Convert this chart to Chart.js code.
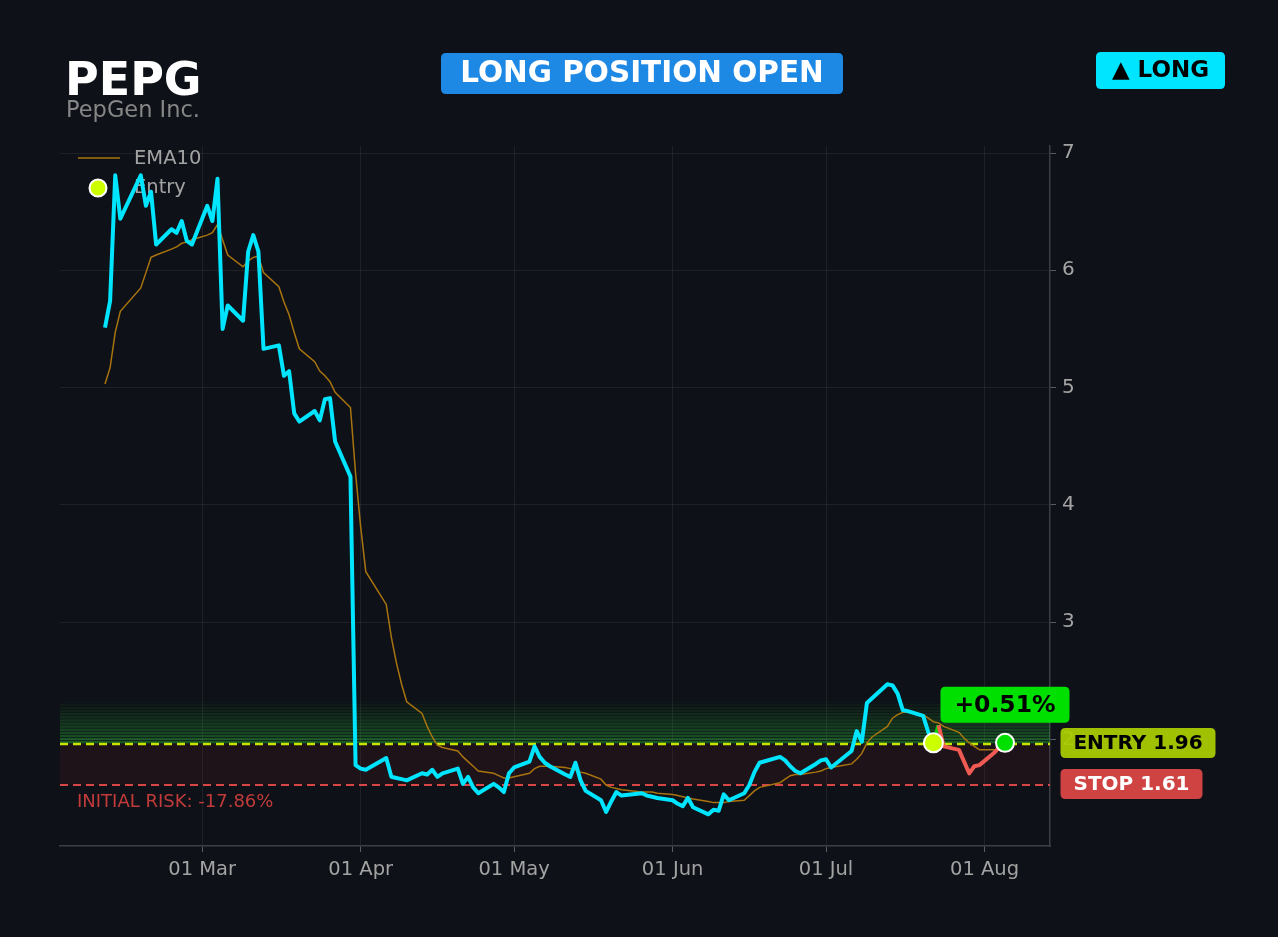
<!DOCTYPE html>
<html>
<head>
<meta charset="utf-8">
<title>PEPG</title>
<script src="https://cdn.jsdelivr.net/npm/chart.js@4.4.1/dist/chart.umd.min.js"></script>
<style>
  html, body { margin: 0; padding: 0; background: #0e1117; }
  canvas { display: block; }
</style>
</head>
<body>
<canvas id="myChart" width="1278" height="937"></canvas>
<script>
var year = 2026;

// trading days (MM-DD)
var dates = [
  '02-10','02-11','02-12','02-13','02-17','02-18','02-19','02-20','02-23','02-24','02-25','02-26','02-27',
  '03-02','03-03','03-04','03-05','03-06','03-09','03-10','03-11','03-12','03-13','03-16','03-17','03-18','03-19','03-20','03-23','03-24','03-25','03-26','03-27','03-30','03-31',
  '04-01','04-02','04-06','04-07','04-08','04-09','04-10','04-13','04-14','04-15','04-16','04-17','04-20','04-21','04-22','04-23','04-24','04-27','04-28','04-29','04-30',
  '05-01','05-04','05-05','05-06','05-07','05-08','05-11','05-12','05-13','05-14','05-15','05-18','05-19','05-20','05-21','05-22','05-26','05-27','05-28','05-29',
  '06-01','06-02','06-03','06-04','06-05','06-08','06-09','06-10','06-11','06-12','06-15','06-16','06-17','06-18','06-22','06-23','06-24','06-25','06-26','06-29','06-30',
  '07-01','07-02','07-06','07-07','07-08','07-09','07-10','07-13','07-14','07-15','07-16','07-17','07-20','07-21','07-22','07-23','07-24','07-27','07-28','07-29','07-30','07-31',
  '08-03','08-04','08-05'
];

var closes = [
  5.51, 5.74, 6.81, 6.44, 6.81, 6.55, 6.67, 6.22, 6.35, 6.32, 6.42, 6.25, 6.22,
  6.55, 6.42, 6.78, 5.50, 5.70, 5.57, 6.16, 6.30, 6.16, 5.33, 5.36, 5.10, 5.14, 4.78, 4.71, 4.80, 4.72, 4.90, 4.91, 4.54, 4.24, 1.78,
  1.75, 1.74, 1.84, 1.68, 1.67, 1.66, 1.65, 1.71, 1.70, 1.74, 1.68, 1.71, 1.75, 1.62, 1.68, 1.59, 1.54, 1.62, 1.59, 1.55, 1.71,
  1.76, 1.81, 1.94, 1.85, 1.80, 1.77, 1.70, 1.68, 1.80, 1.65, 1.56, 1.48, 1.38, 1.47, 1.55, 1.52, 1.54, 1.52, 1.51, 1.50,
  1.48, 1.45, 1.43, 1.50, 1.42, 1.36, 1.40, 1.39, 1.53, 1.48, 1.54, 1.61, 1.72, 1.80, 1.85, 1.82, 1.77, 1.73, 1.71, 1.79, 1.82,
  1.83, 1.76, 1.90, 2.07, 1.98, 2.31, 2.35, 2.47, 2.46, 2.39, 2.25, 2.24, 2.20, 2.06, 1.97, 2.12, 1.94, 1.91, 1.81, 1.71, 1.77, 1.78,
  1.89, 1.94, 1.97
];

var ema10 = [
  5.03, 5.17, 5.47, 5.65, 5.85, 5.98, 6.11, 6.13, 6.18, 6.20, 6.23, 6.24, 6.26,
  6.30, 6.32, 6.39, 6.26, 6.13, 6.03, 6.08, 6.11, 6.12, 5.98, 5.86, 5.73, 5.62, 5.47, 5.33, 5.22, 5.14, 5.10, 5.05, 4.96, 4.83, 4.27,
  3.81, 3.43, 3.15, 2.87, 2.65, 2.47, 2.32, 2.22, 2.11, 2.02, 1.95, 1.93, 1.90, 1.85, 1.81, 1.77, 1.73, 1.71, 1.69, 1.67, 1.67,
  1.68, 1.71, 1.75, 1.77, 1.77, 1.77, 1.76, 1.75, 1.74, 1.72, 1.71, 1.66, 1.61, 1.59, 1.58, 1.57, 1.55, 1.55, 1.55, 1.54,
  1.53, 1.52, 1.51, 1.50, 1.49, 1.47, 1.46, 1.46, 1.46, 1.47, 1.48, 1.52, 1.56, 1.59, 1.63, 1.66, 1.69, 1.70, 1.70, 1.72, 1.73,
  1.75, 1.76, 1.79, 1.83, 1.88, 1.97, 2.02, 2.11, 2.18, 2.21, 2.23, 2.23, 2.21, 2.18, 2.15, 2.14, 2.11, 2.06, 2.01, 1.97, 1.94, 1.91,
  1.91, 1.91, 1.91
];

var tickDates = ['03-01', '04-01', '05-01', '06-01', '07-01', '08-01'];
var tickLabels = ['01 Mar', '01 Apr', '01 May', '01 Jun', '01 Jul', '01 Aug'];
var yTicks = [2, 3, 4, 5, 6, 7];

var entryDate = '07-22';
var entryPrice = 1.96;
var stopPrice = 1.61;
var greenBandTop = 2.33;
var pnlText = '+0.51%';
var riskText = 'INITIAL RISK: -17.86%';

var yMin = 1.09, yMax = 7.06;
var FONT = 'DejaVu Sans';

function dayNum(s) {
  var p = s.split('-');
  return (Date.UTC(year, +p[0] - 1, +p[1]) - Date.UTC(year, 0, 1)) / 86400000;
}

var days = dates.map(dayNum);
var tickDays = tickDates.map(dayNum);
var entryIdx = dates.indexOf(entryDate);
var lastIdx = dates.length - 1;

var xSpan = days[lastIdx] - days[0];
var xMin = days[0] - xSpan * 0.05;
var xMax = days[lastIdx] + xSpan * 0.05;

var prePts = [], postPts = [], emaPts = [];
for (var i = 0; i < dates.length; i++) {
  if (i <= entryIdx) prePts.push({ x: days[i], y: closes[i] });
  if (i >= entryIdx) postPts.push({ x: days[i], y: closes[i] });
  emaPts.push({ x: days[i], y: ema10[i] });
}

function roundRect(ctx, x, y, w, h, r) {
  ctx.beginPath();
  ctx.moveTo(x + r, y);
  ctx.lineTo(x + w - r, y);
  ctx.quadraticCurveTo(x + w, y, x + w, y + r);
  ctx.lineTo(x + w, y + h - r);
  ctx.quadraticCurveTo(x + w, y + h, x + w - r, y + h);
  ctx.lineTo(x + r, y + h);
  ctx.quadraticCurveTo(x, y + h, x, y + h - r);
  ctx.lineTo(x, y + r);
  ctx.quadraticCurveTo(x, y, x + r, y);
  ctx.closePath();
}

function badge(ctx, cx, cy, w, h, bg, fg, text, size) {
  ctx.save();
  ctx.fillStyle = bg;
  roundRect(ctx, cx - w / 2, cy - h / 2, w, h, 5);
  ctx.fill();
  ctx.fillStyle = fg;
  ctx.font = 'bold ' + size + 'px "' + FONT + '"';
  ctx.textAlign = 'center';
  ctx.textBaseline = 'middle';
  ctx.fillText(text, cx, cy + 1);
  ctx.restore();
}

var zones = {
  id: 'zones',
  beforeDatasetsDraw: function (chart) {
    var ctx = chart.ctx, a = chart.chartArea;
    var ys = chart.scales.y;
    var yE = ys.getPixelForValue(entryPrice);
    var yS = ys.getPixelForValue(stopPrice);
    var yG = ys.getPixelForValue(greenBandTop);
    ctx.save();
    // green profit glow above entry, drawn in strips
    var n = 14, h = (yE - yG) / n;
    for (var k = 0; k < n; k++) {
      var al = 0.46 * (1 - k / n);
      ctx.fillStyle = 'rgba(40,170,55,' + al.toFixed(3) + ')';
      ctx.fillRect(a.left, yE - (k + 1) * h, a.right - a.left, h - 0.6);
    }
    // risk band
    ctx.fillStyle = 'rgba(120,30,40,0.17)';
    ctx.fillRect(a.left, yE, a.right - a.left, yS - yE);

    ctx.setLineDash([8, 5]);
    ctx.lineWidth = 2.5;
    ctx.strokeStyle = '#c6e600';
    ctx.beginPath(); ctx.moveTo(a.left, yE); ctx.lineTo(a.right, yE); ctx.stroke();
    ctx.lineWidth = 2;
    ctx.strokeStyle = '#d94646';
    ctx.beginPath(); ctx.moveTo(a.left, yS); ctx.lineTo(a.right, yS); ctx.stroke();
    ctx.setLineDash([]);

    ctx.fillStyle = '#c23b3b';
    ctx.font = '18px "' + FONT + '"';
    ctx.textBaseline = 'middle';
    ctx.fillText(riskText, a.left + 17, yS + 17);

    // legend
    ctx.strokeStyle = '#a8740f';
    ctx.lineWidth = 1.5;
    ctx.beginPath(); ctx.moveTo(a.left + 18, a.top + 12); ctx.lineTo(a.left + 60, a.top + 12); ctx.stroke();
    ctx.fillStyle = '#ccff00';
    ctx.strokeStyle = '#ffffff';
    ctx.lineWidth = 2;
    ctx.beginPath(); ctx.arc(a.left + 38, a.top + 42, 8.5, 0, Math.PI * 2); ctx.fill(); ctx.stroke();
    ctx.fillStyle = '#a3a3a3';
    ctx.font = '19.5px "' + FONT + '"';
    ctx.fillText('EMA10', a.left + 74, a.top + 13);
    ctx.fillText('Entry', a.left + 74, a.top + 42);
    ctx.restore();
  },
  afterDraw: function (chart) {
    var ctx = chart.ctx;
    var xs = chart.scales.x, ys = chart.scales.y;
    ctx.save();
    ctx.fillStyle = '#ffffff';
    ctx.font = 'bold 46px "' + FONT + '"';
    ctx.textBaseline = 'alphabetic';
    ctx.fillText('PEPG', 65, 95);
    ctx.fillStyle = '#868686';
    ctx.font = '22.5px "' + FONT + '"';
    ctx.fillText('PepGen Inc.', 66, 117);
    ctx.restore();

    badge(ctx, 642, 73.5, 402, 41, '#1e88e5', '#ffffff', 'LONG POSITION OPEN', 29.5);
    badge(ctx, 1160.5, 70.5, 129, 37, '#00e5ff', '#000000', '\u25B2 LONG', 23);

    var ex = xs.getPixelForValue(days[lastIdx]);
    var ey = ys.getPixelForValue(closes[lastIdx]);
    badge(ctx, ex, ey - 38, 129, 36, '#00e000', '#000000', pnlText, 23.5);

    var yE = ys.getPixelForValue(entryPrice);
    var yS = ys.getPixelForValue(stopPrice);
    badge(ctx, 1138, yE - 1, 155, 30, 'rgba(170,204,0,0.94)', '#000000', 'ENTRY ' + entryPrice.toFixed(2), 20);
    badge(ctx, 1131.5, yS - 1, 142, 30, '#d04343', '#ffffff', 'STOP ' + stopPrice.toFixed(2), 20);
  }
};

var ctx = document.getElementById('myChart').getContext('2d');
var myChart = new Chart(ctx, {
  type: 'line',
  data: {
    datasets: [
      {
        label: 'Entry', data: [{ x: days[entryIdx], y: closes[entryIdx] }],
        showLine: false, pointRadius: 9.5, pointBackgroundColor: '#ccff00',
        pointBorderColor: '#ffffff', pointBorderWidth: 2, order: 0
      },
      {
        label: 'Exit', data: [{ x: days[lastIdx], y: closes[lastIdx] }],
        showLine: false, pointRadius: 9, pointBackgroundColor: '#00e000',
        pointBorderColor: '#ffffff', pointBorderWidth: 2, order: 0
      },
      {
        label: 'Price', data: prePts, borderColor: '#00e5ff', borderWidth: 4,
        pointRadius: 0, tension: 0, borderJoinStyle: 'round', order: 1
      },
      {
        label: 'Trade', data: postPts, borderColor: '#ef5a52', borderWidth: 4,
        pointRadius: 0, tension: 0, borderJoinStyle: 'round', order: 2,
        segment: {
          borderColor: function (c) { return c.p1.parsed.y >= entryPrice ? '#00d000' : '#ef5a52'; }
        }
      },
      {
        label: 'EMA10', data: emaPts, borderColor: '#a8740f', borderWidth: 1.5,
        pointRadius: 0, tension: 0, order: 3
      }
    ]
  },
  options: {
    responsive: false,
    animation: false,
    devicePixelRatio: 1,
    layout: { padding: { left: 60, top: 146, right: 0, bottom: 0 } },
    plugins: { legend: { display: false }, tooltip: { enabled: false } },
    scales: {
      x: {
        type: 'linear', min: xMin, max: xMax,
        afterBuildTicks: function (s) { s.ticks = tickDays.map(function (v) { return { value: v }; }); },
        afterFit: function (s) { s.height = 91; },
        ticks: {
          callback: function (v, i) { return tickLabels[i]; },
          color: '#a3a3a3', font: { family: FONT, size: 19.5 }, padding: 6,
          maxRotation: 0, autoSkip: false
        },
        grid: { color: 'rgba(255,255,255,0.07)', tickColor: '#5a5d64', tickLength: 6 },
        border: { color: '#3c3f46', width: 1.5 }
      },
      y: {
        position: 'right', min: yMin, max: yMax,
        afterBuildTicks: function (s) { s.ticks = yTicks.map(function (v) { return { value: v }; }); },
        afterFit: function (s) { s.width = 1278 - 1050; },
        ticks: {
          callback: function (v) { return String(v); },
          color: '#a3a3a3', font: { family: FONT, size: 20 }, padding: 6
        },
        grid: { color: 'rgba(255,255,255,0.07)', tickColor: '#5a5d64', tickLength: 6 },
        border: { color: '#3c3f46', width: 1.5 }
      }
    }
  },
  plugins: [zones]
});
</script>
</body>
</html>
